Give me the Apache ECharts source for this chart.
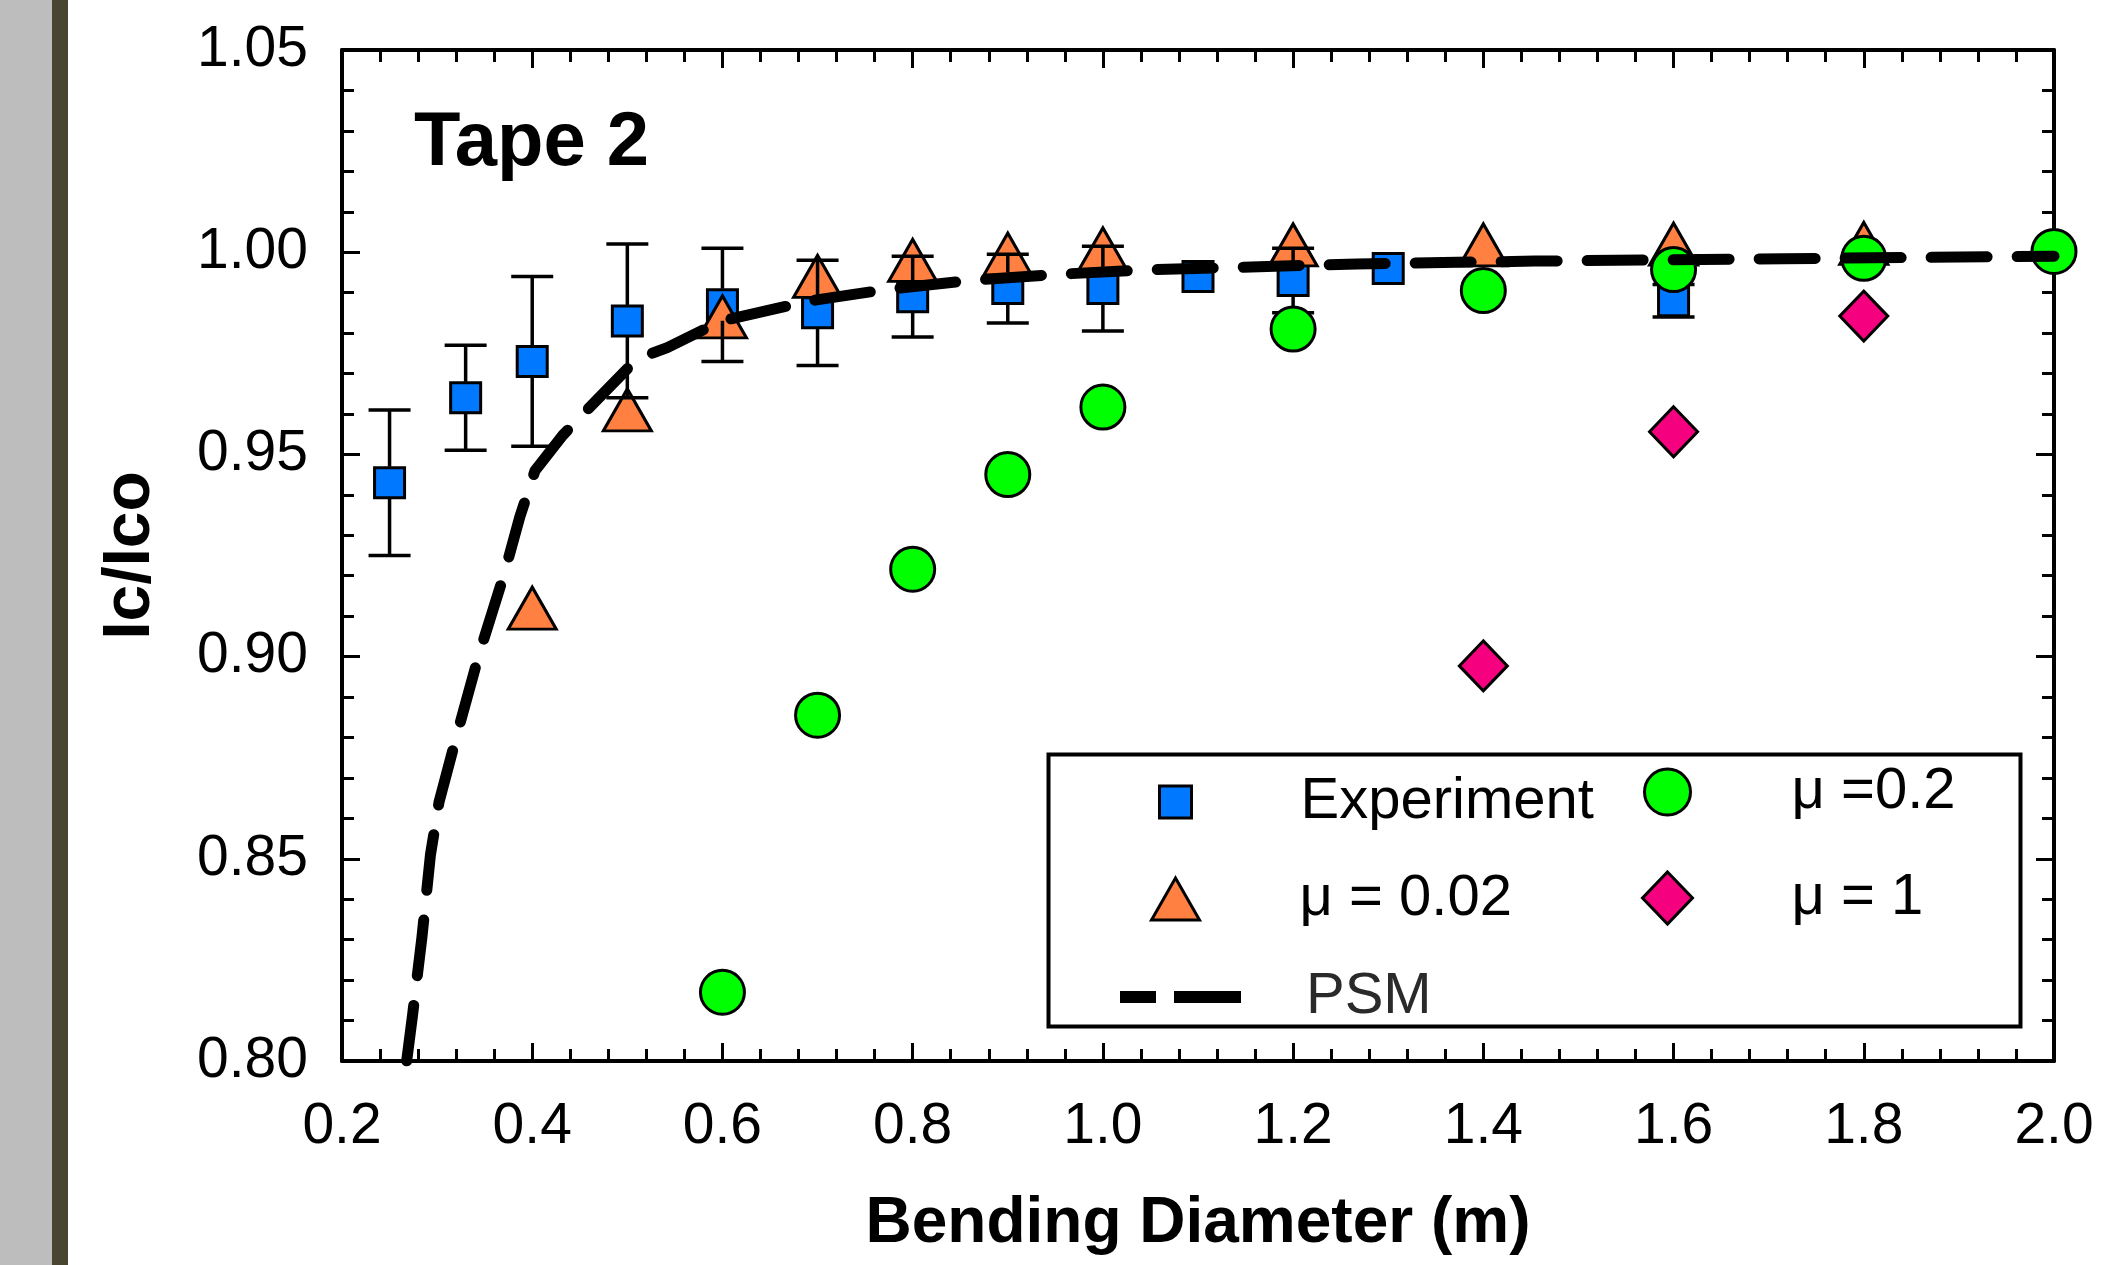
<!DOCTYPE html>
<html><head><meta charset="utf-8">
<script src="https://cdn.jsdelivr.net/npm/echarts@6/dist/echarts.min.js"></script>
<style>html,body{margin:0;padding:0;background:#fff;overflow:hidden}#c{width:2117px;height:1265px}</style>
</head><body><div id="c"></div>
<script>
// ---- data ----
const expX   = [0.25, 0.33, 0.40, 0.50, 0.60, 0.70, 0.80, 0.90, 1.00, 1.10, 1.20, 1.30, 1.60];
const expY   = [0.943, 0.964, 0.973, 0.983, 0.987, 0.985, 0.989, 0.991, 0.991, 0.994, 0.993, 0.996, 0.988];
const expErr = [0.018, 0.013, 0.021, 0.019, 0.014, 0.013, 0.010, 0.0085, 0.0105, 0.0, 0.008, 0.0, 0.004];

const mu002X = [0.40, 0.50, 0.60, 0.70, 0.80, 0.90, 1.00, 1.20, 1.40, 1.60, 1.80];
const mu002Y = [0.912, 0.961, 0.984, 0.994, 0.998, 0.9995, 1.0008, 1.0018, 1.0018, 1.002, 1.0022];

const mu02X = [0.60, 0.70, 0.80, 0.90, 1.00, 1.20, 1.40, 1.60, 1.80, 2.00];
const mu02Y = [0.817, 0.8855, 0.9216, 0.945, 0.9617, 0.981, 0.9905, 0.9957, 0.9985, 1.0002];

const mu1X = [1.40, 1.60, 1.80];
const mu1Y = [0.8977, 0.9556, 0.9842];

const psmX = [0.268, 0.274, 0.284, 0.293, 0.302, 0.320, 0.344, 0.370, 0.387, 0.403, 0.432, 0.459, 0.510, 0.542, 0.599, 0.693, 0.773, 0.859, 0.950, 1.042, 1.267, 1.454, 1.716, 2.000];
const psmY = [0.800, 0.811, 0.8305, 0.851, 0.864, 0.880, 0.9005, 0.920, 0.9346, 0.946, 0.9547, 0.9613, 0.9736, 0.9764, 0.983, 0.988, 0.9908, 0.993, 0.9945, 0.9956, 0.9971, 0.9978, 0.9984, 0.999];

const seriesNames = ['Experiment', 'μ = 0.02', 'μ =0.2', 'μ = 1', 'PSM'];
const xTitle = 'Bending Diameter (m)';
const yTitle = 'Ic/Ico';
const panelLabel = 'Tape 2';

const FONT = '"Liberation Sans", Arial, sans-serif';
const BLUE = '#0078ff', ORANGE = '#ff8040', GREEN = '#00ff00', PINK = '#f5007f';

const zip = (xs, ys) => xs.map((x, i) => [x, ys[i]]);

const chart = echarts.init(document.getElementById('c'), null, {renderer: 'canvas'});

const axisCommon = {
  axisLine: {show: true, onZero: false, lineStyle: {color: '#000', width: 4}},
  axisTick: {show: true, inside: true, length: 18, lineStyle: {color: '#000', width: 3}},
  minorTick: {show: true, splitNumber: 5, length: 12, lineStyle: {color: '#000', width: 3}},
  splitLine: {show: false},
  minorSplitLine: {show: false}
};

function legendItem(name, left, top, w, h, padLeft, itemStyle, extra) {
  return Object.assign({
    data: [name], left: left, top: top, orient: 'horizontal', padding: 0,
    itemWidth: w, itemHeight: h, selectedMode: false, symbolKeepAspect: false,
    itemStyle: itemStyle,
    textStyle: {fontFamily: FONT, fontSize: 58, color: '#000', lineHeight: 60, padding: [0, 0, 0, padLeft]}
  }, extra || {});
}

const option = {
  backgroundColor: '#fff',
  animation: false,
  grid: {left: 342, top: 50, right: 63, bottom: 204, containLabel: false},
  xAxis: [
    Object.assign({
      type: 'value', min: 0.2, max: 2.0, interval: 0.2, position: 'bottom',
      name: xTitle, nameLocation: 'middle', nameGap: 131,
      nameTextStyle: {fontFamily: FONT, fontSize: 64, fontWeight: 'bold', color: '#000'},
      axisLabel: {show: true, margin: 38, fontFamily: FONT, fontSize: 57, color: '#000',
                  formatter: v => v.toFixed(1)}
    }, axisCommon),
    Object.assign({
      type: 'value', min: 0.2, max: 2.0, interval: 0.2, position: 'top',
      axisLabel: {show: false}
    }, axisCommon)
  ],
  yAxis: [
    Object.assign({
      type: 'value', min: 0.80, max: 1.05, interval: 0.05, position: 'left',
      name: yTitle, nameLocation: 'middle', nameGap: 178, nameRotate: 90,
      nameTextStyle: {fontFamily: FONT, fontSize: 66, fontWeight: 'bold', color: '#000'},
      axisLabel: {show: true, margin: 34, fontFamily: FONT, fontSize: 57, color: '#000',
                  formatter: v => v.toFixed(2)}
    }, axisCommon),
    Object.assign({
      type: 'value', min: 0.80, max: 1.05, interval: 0.05, position: 'right',
      axisLabel: {show: false}
    }, axisCommon)
  ],
  legend: [
    legendItem(seriesNames[0], 1158, 772, 32, 32, 104, {color: BLUE, borderColor: '#000', borderWidth: 3}),
    legendItem(seriesNames[1], 1150, 869, 48, 42, 95, {color: ORANGE, borderColor: '#000', borderWidth: 3}),
    legendItem(seriesNames[2], 1643, 762, 46, 46, 96, {color: GREEN, borderColor: '#000', borderWidth: 3}),
    legendItem(seriesNames[3], 1641, 868, 50, 52, 94, {color: PINK, borderColor: '#000', borderWidth: 3}),
    legendItem(seriesNames[4], 1114, 967, 121, 12, 63, {opacity: 0},
      {lineStyle: {color: '#000', width: 12, type: [36, 18, 70, 40], cap: 'butt'}, textStyle: {fontFamily: FONT, fontSize: 58, color: '#2a2a2a', lineHeight: 60, padding: [0, 0, 0, 60]}})
  ],
  graphic: [
    {type: 'rect', left: 0, top: 0, shape: {width: 52, height: 1265}, style: {fill: '#bdbdbd'}, z: 10},
    {type: 'rect', left: 52, top: 0, shape: {width: 16, height: 1265}, style: {fill: '#4a4530'}, z: 10},
    {type: 'text', left: 414, top: 106, style: {text: panelLabel, fontFamily: FONT, fontSize: 76, fontWeight: 'bold', fill: '#000'}, z: 10},
    {type: 'rect', left: 1046, top: 752, shape: {width: 972, height: 272}, style: {fill: 'none', stroke: '#000', lineWidth: 4}, z: 1}
  ],
  series: [
    {
      name: seriesNames[0], type: 'scatter', xAxisIndex: 0, yAxisIndex: 0,
      symbol: 'rect', symbolSize: 30, z: 3,
      itemStyle: {color: BLUE, borderColor: '#000', borderWidth: 3, opacity: 1},
      data: zip(expX, expY)
    },
    {
      name: seriesNames[1], type: 'scatter', xAxisIndex: 0, yAxisIndex: 0,
      symbol: 'triangle', symbolSize: [48, 42], z: 4,
      itemStyle: {color: ORANGE, borderColor: '#000', borderWidth: 3, opacity: 1},
      data: zip(mu002X, mu002Y)
    },
    {
      name: 'errorbars', type: 'custom', xAxisIndex: 0, yAxisIndex: 0, z: 5,
      silent: true,
      data: expX.map((x, i) => [x, expY[i], expErr[i]]),
      renderItem: function (params, api) {
        const x = api.value(0), y = api.value(1), e = api.value(2);
        const c = api.coord([x, y]);
        const hi = api.coord([x, y + e]);
        const lo = api.coord([x, y - e]);
        const half = 16, cap = 21;
        const st = {stroke: '#000', lineWidth: 3.5};
        const ch = [];
        if (c[1] - hi[1] > half) {
          ch.push({type: 'line', shape: {x1: c[0], y1: c[1] - half, x2: c[0], y2: hi[1]}, style: st});
          ch.push({type: 'line', shape: {x1: c[0] - cap, y1: hi[1], x2: c[0] + cap, y2: hi[1]}, style: st});
        }
        if (lo[1] - c[1] > half) {
          ch.push({type: 'line', shape: {x1: c[0], y1: c[1] + half, x2: c[0], y2: lo[1]}, style: st});
          ch.push({type: 'line', shape: {x1: c[0] - cap, y1: lo[1], x2: c[0] + cap, y2: lo[1]}, style: st});
        }
        return {type: 'group', children: ch};
      }
    },
    {
      name: seriesNames[2], type: 'scatter', xAxisIndex: 0, yAxisIndex: 0,
      symbol: 'circle', symbolSize: 44, z: 6,
      itemStyle: {color: GREEN, borderColor: '#000', borderWidth: 3, opacity: 1},
      data: zip(mu02X, mu02Y)
    },
    {
      name: seriesNames[3], type: 'scatter', xAxisIndex: 0, yAxisIndex: 0,
      symbol: 'diamond', symbolSize: [48, 50], z: 7,
      itemStyle: {color: PINK, borderColor: '#000', borderWidth: 3, opacity: 1},
      data: zip(mu1X, mu1Y)
    },
    {
      name: seriesNames[4], type: 'line', xAxisIndex: 0, yAxisIndex: 0,
      showSymbol: false, symbol: 'none', smooth: false, z: 8, clip: true,
      lineStyle: {color: '#000', width: 11, type: [56, 30], cap: 'round', join: 'round'},
      itemStyle: {color: '#000'},
      data: zip(psmX, psmY)
    }
  ]
};
chart.setOption(option);
</script>
</body></html>
